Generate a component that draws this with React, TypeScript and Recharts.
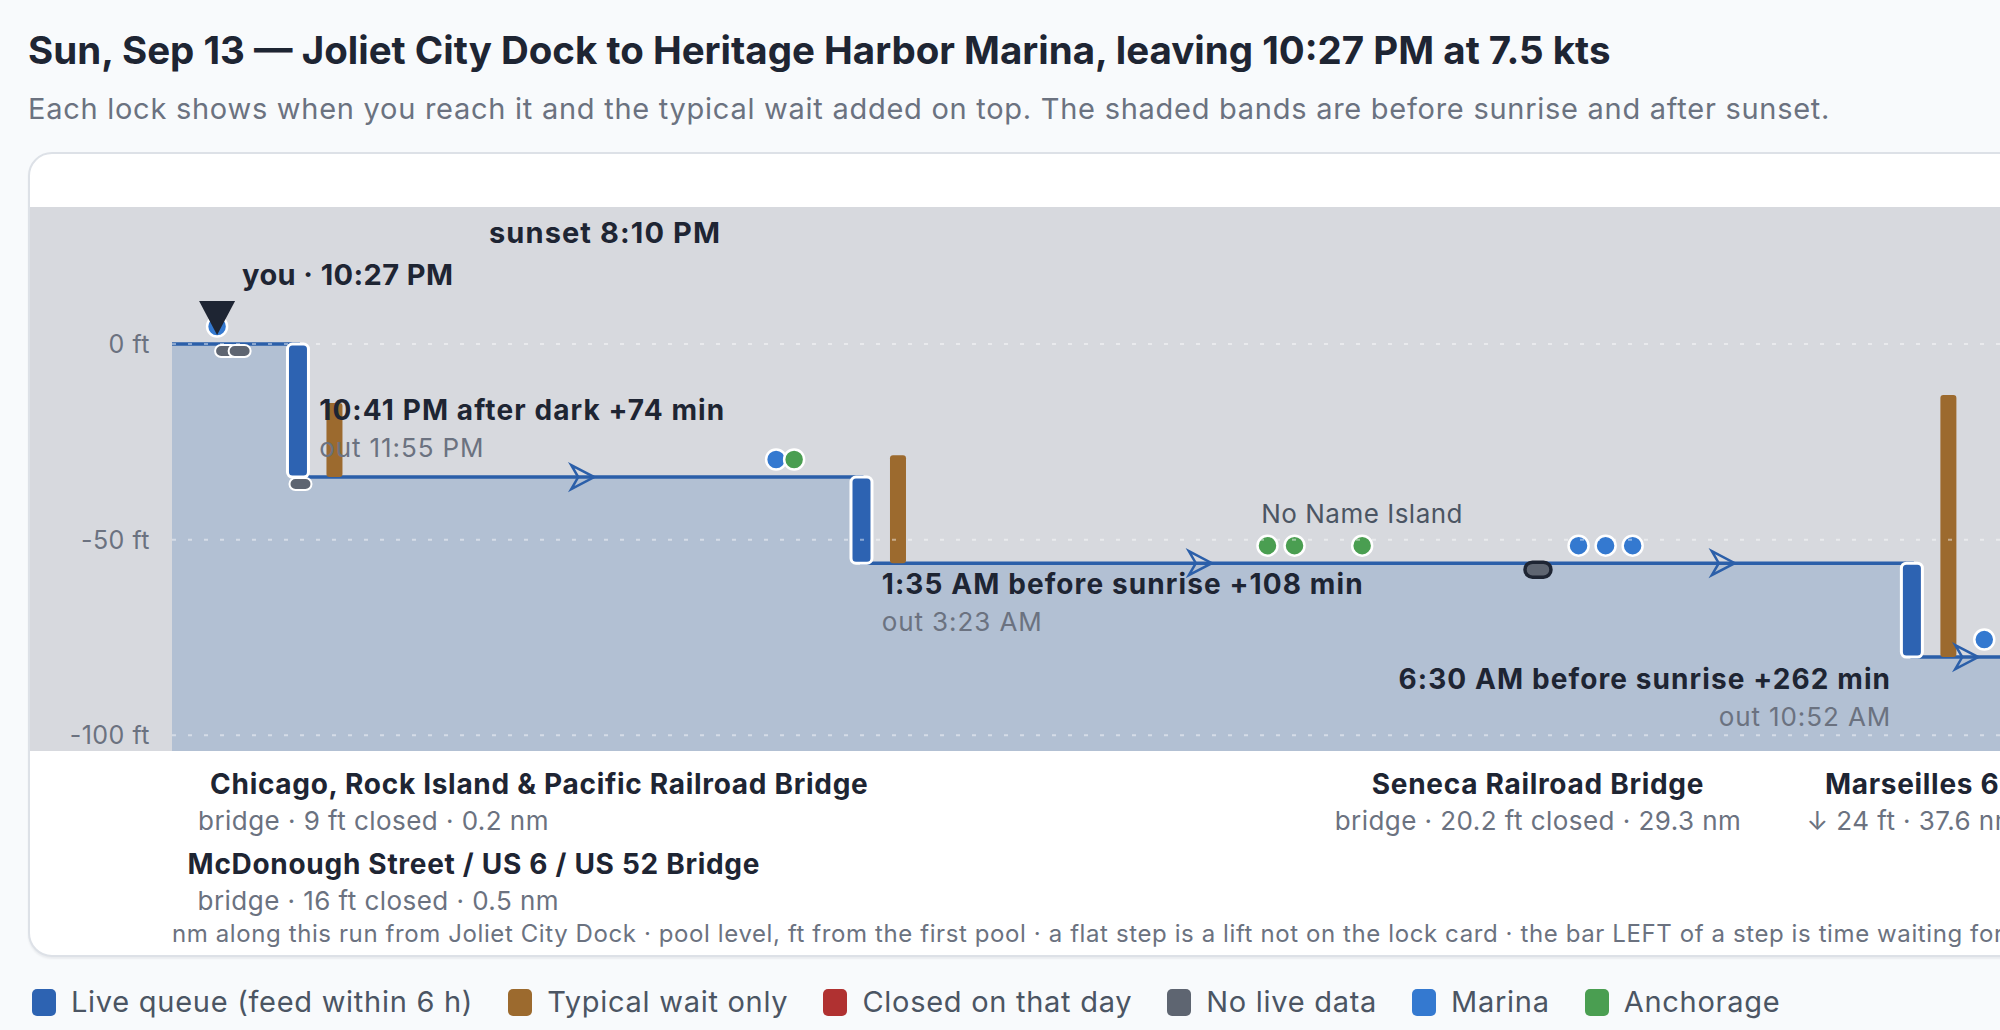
import React from 'react';
import {
  ComposedChart,
  Area,
  Bar,
  Scatter,
  XAxis,
  YAxis,
  ReferenceArea,
  ReferenceLine,
} from 'recharts';

const title = 'Sun, Sep 13 — Joliet City Dock to Heritage Harbor Marina, leaving 10:27 PM at 7.5 kts';
const subtitle =
  'Each lock shows when you reach it and the typical wait added on top. The shaded bands are before sunrise and after sunset.';
const footer =
  'nm along this run from Joliet City Dock · pool level, ft from the first pool · a flat step is a lift not on the lock card · the bar LEFT of a step is time waiting for the lock';

// pool level (ft from the first pool), stepping down at each lock
const poolNm = [-1, 1.8, 14.3, 37.6, 48];
const poolFt = [0, -34, -56, -80, -80];

// locks
const lockNm = [1.8, 14.3, 37.6];
const lockArrive = ['10:41 PM', '1:35 AM', '6:30 AM'];
const lockLight = ['after dark', 'before sunrise', 'before sunrise'];
const lockWaitMin = [74, 108, 262];
const lockOut = ['11:55 PM', '3:23 AM', '10:52 AM'];

// stops along the way
const marinaNm = [0, 12.4, 30.2, 30.8, 31.4, 39.2];
const anchorageNm = [12.8, 23.3, 23.9, 25.4];
const anchorageName = ['', '', '', 'No Name Island'];
const bridgeNm = [0.2, 0.5, 1.85, 29.3];
const bridgeFlagged = [false, false, false, true];
const arrowNm = [8.1, 21.8, 33.4, 38.8];

// labels under the chart
const bottomLabelNm = [0.2, 0.5, 29.3, 37.6];
const bottomLabelName = [
  'Chicago, Rock Island & Pacific Railroad Bridge',
  'McDonough Street / US 6 / US 52 Bridge',
  'Seneca Railroad Bridge',
  'Marseilles 6',
];
const bottomLabelSub = [
  'bridge · 9 ft closed · 0.2 nm',
  'bridge · 16 ft closed · 0.5 nm',
  'bridge · 20.2 ft closed · 29.3 nm',
  '↓ 24 ft · 37.6 nm',
];

const yTicks = [0, -50, -100];
const youNm = 0;
const youTime = '10:27 PM';
const sunsetTime = '8:10 PM';
const nightBand = [-4.15, 48];

const legendNames = ['Live queue (feed within 6 h)', 'Typical wait only', 'Closed on that day', 'No live data', 'Marina', 'Anchorage'];

// styles
const FONT = 'Inter, "Noto Sans", sans-serif';
const PAGE = '#f8fafc';
const INK = '#1e2533';
const MUTED = '#6b7280';
const NIGHT = '#d7d9de';
const POOL = '#b2c0d3';
const LINE = '#2b5fa9';
const LIVE = '#2d63b2';
const TYPICAL = '#9c6a2e';
const CLOSED = '#b03131';
const NODATA = '#5e6571';
const MARINA = '#3479d0';
const ANCHOR = '#4a9e51';
const legendColors = [LIVE, TYPICAL, CLOSED, NODATA, MARINA, ANCHOR];

const CHART_W = 2351;
const CHART_H = 801;
const X_DOMAIN: [number, number] = [-1, 48];
const Y_DOMAIN: [number, number] = [-104, 35];
const FT_PER_MIN = 0.2555;

const lockLabelPlace = [
  { anchor: 'start', dx: 21, dy: -57 },
  { anchor: 'start', dx: 20, dy: 31 },
  { anchor: 'end', dx: -21, dy: 32 },
];
const bottomLabelPlace = [
  { row: 0, anchor: 'start', nameDx: -16, subDx: -28 },
  { row: 1, anchor: 'start', nameDx: -52, subDx: -42 },
  { row: 0, anchor: 'middle', nameDx: 0, subDx: 0 },
  { row: 0, anchor: 'middle', nameDx: 0, subDx: 0 },
];

const levelAt = (nm: number) => {
  let ft = poolFt[0];
  poolNm.forEach((x, i) => {
    if (nm >= x) ft = poolFt[i];
  });
  return ft;
};

const poolRows = poolNm.map((nm, i) => ({ nm, ft: poolFt[i] }));
const lockRows = lockNm.map((nm, i) => ({
  nm,
  i,
  before: poolFt[i],
  after: poolFt[i + 1],
  wait: lockWaitMin[i],
  ft: poolFt[i + 1],
}));
const marinaRows = marinaNm.map((nm) => ({ nm, ft: levelAt(nm) }));
const anchorRows = anchorageNm.map((nm, i) => ({ nm, ft: levelAt(nm), name: anchorageName[i] }));
const bridgeRows = bridgeNm.map((nm, i) => ({ nm, ft: levelAt(nm), flagged: bridgeFlagged[i] }));
const arrowRows = arrowNm.map((nm) => ({ nm, ft: levelAt(nm) }));
const youRows = [{ nm: youNm, ft: levelAt(youNm) }];

const LockBar = (p: any) => (
  <rect x={p.x} y={p.y} width={p.width} height={p.height} rx={5} fill={LIVE} stroke="#fff" strokeWidth={3} />
);

const WaitBar = (p: any) => (
  <rect x={p.x + 36} y={p.y} width={p.width} height={p.height} rx={3} fill={TYPICAL} />
);

const ArrowShape = (p: any) => (
  <path
    d={`M${p.cx - 11},${p.cy - 12} L${p.cx + 12},${p.cy} L${p.cx - 11},${p.cy + 12} L${p.cx - 4},${p.cy} Z`}
    fill="none"
    stroke={LINE}
    strokeWidth={2.5}
  />
);

const BridgeShape = (p: any) =>
  p.payload.flagged ? (
    <rect x={p.cx - 13} y={p.cy - 1} width={26} height={15} rx={7.5} fill={NODATA} stroke={INK} strokeWidth={3.5} />
  ) : (
    <rect x={p.cx - 11} y={p.cy + 1} width={22} height={12} rx={6} fill={NODATA} stroke="#fff" strokeWidth={2} />
  );

const MarinaShape = (p: any) => (
  <circle cx={p.cx} cy={p.cy - 17.5} r={10} fill={MARINA} stroke="#fff" strokeWidth={2.5} />
);

const AnchorShape = (p: any) => (
  <g>
    <circle cx={p.cx} cy={p.cy - 17.5} r={10} fill={ANCHOR} stroke="#fff" strokeWidth={2.5} />
    {p.payload.name ? (
      <text x={p.cx} y={p.cy - 40} textAnchor="middle" fontSize={26} letterSpacing={0.5} fill="#4b5563">
        {p.payload.name}
      </text>
    ) : null}
  </g>
);

const YouShape = (p: any) => (
  <g>
    <path d={`M${p.cx - 18},${p.cy - 43} L${p.cx + 18},${p.cy - 43} L${p.cx},${p.cy - 9} Z`} fill={INK} />
    <text x={p.cx + 25} y={p.cy - 59} fontSize={29} fontWeight={700} letterSpacing={0.4} fill={INK}>
      {`you · ${youTime}`}
    </text>
  </g>
);

const LockLabel = (p: any) => {
  const i = p.payload.i;
  const place = lockLabelPlace[i];
  const x = p.cx + place.dx;
  return (
    <g>
      <text
        x={x}
        y={p.cy + place.dy}
        textAnchor={place.anchor}
        fontSize={28}
        fontWeight={700}
        letterSpacing={1.1}
        fill={INK}
      >
        {`${lockArrive[i]} ${lockLight[i]} +${lockWaitMin[i]} min`}
      </text>
      <text x={x} y={p.cy + place.dy + 37} textAnchor={place.anchor} fontSize={26} letterSpacing={0.9} fill={MUTED}>
        {`out ${lockOut[i]}`}
      </text>
    </g>
  );
};

const YTick = (p: any) => (
  <text x={p.x} y={p.y} textAnchor="end" dominantBaseline="central" fontSize={25} letterSpacing={0.5} fill={MUTED}>
    {`${p.payload.value} ft`}
  </text>
);

const BottomTick = (p: any) => {
  const i = bottomLabelNm.indexOf(p.payload.value);
  if (i < 0) return null;
  const place = bottomLabelPlace[i];
  const y = p.y + place.row * 80;
  return (
    <g>
      <text
        x={p.x + place.nameDx}
        y={y + 43}
        textAnchor={place.anchor}
        fontSize={28}
        fontWeight={700}
        letterSpacing={0.7}
        fill={INK}
      >
        {bottomLabelName[i]}
      </text>
      <text x={p.x + place.subDx} y={y + 79} textAnchor={place.anchor} fontSize={26} letterSpacing={0.45} fill={MUTED}>
        {bottomLabelSub[i]}
      </text>
    </g>
  );
};

const FooterLabel = (p: any) => {
  const vb = p.viewBox || { x: 0, y: 0 };
  return (
    <text x={vb.x} y={vb.y + 191} fontSize={24} letterSpacing={0.6} fill={MUTED}>
      {footer}
    </text>
  );
};

const SunsetLabel = (p: any) => {
  const vb = p.viewBox || { x: 0, y: 0 };
  return (
    <text x={vb.x + 459} y={vb.y + 36} fontSize={29} fontWeight={700} letterSpacing={1.1} fill={INK}>
      {`sunset ${sunsetTime}`}
    </text>
  );
};

function LockChart() {
  return (
    <ComposedChart width={CHART_W} height={CHART_H} data={lockRows} margin={{ top: 53, right: 0, bottom: 0, left: 0 }}>
      <XAxis
        dataKey="nm"
        type="number"
        domain={X_DOMAIN}
        allowDataOverflow
        ticks={bottomLabelNm}
        interval={0}
        tick={<BottomTick />}
        tickLine={false}
        axisLine={false}
        tickSize={0}
        tickMargin={0}
        height={204}
        label={<FooterLabel />}
      />
      <XAxis xAxisId="lock" dataKey="nm" type="number" domain={X_DOMAIN} allowDataOverflow hide />
      <XAxis xAxisId="wait" dataKey="nm" type="number" domain={X_DOMAIN} allowDataOverflow hide />
      <YAxis
        type="number"
        domain={Y_DOMAIN}
        allowDataOverflow
        ticks={yTicks}
        interval={0}
        tick={<YTick />}
        tickLine={false}
        axisLine={false}
        tickSize={0}
        tickMargin={22}
        width={142}
      />
      <ReferenceArea
        x1={nightBand[0]}
        x2={nightBand[1]}
        ifOverflow="visible"
        fill={NIGHT}
        fillOpacity={1}
        stroke="none"
        label={<SunsetLabel />}
        zIndex={10}
      />
      <Area
        data={poolRows}
        dataKey="ft"
        type="stepAfter"
        baseValue="dataMin"
        stroke={LINE}
        strokeWidth={3.5}
        fill={POOL}
        fillOpacity={1}
        dot={false}
        activeDot={false}
        isAnimationActive={false}
        zIndex={100}
      />
      <Bar
        xAxisId="lock"
        dataKey={(d: any) => [d.after, d.before]}
        barSize={21}
        shape={LockBar}
        isAnimationActive={false}
        zIndex={300}
      />
      <Bar
        xAxisId="wait"
        dataKey={(d: any) => [d.after, d.after + d.wait * FT_PER_MIN]}
        barSize={16}
        shape={WaitBar}
        isAnimationActive={false}
        zIndex={310}
      />
      <Scatter data={arrowRows} dataKey="ft" shape={ArrowShape} isAnimationActive={false} zIndex={400} />
      <Scatter data={bridgeRows} dataKey="ft" shape={BridgeShape} isAnimationActive={false} zIndex={600} />
      <Scatter data={marinaRows} dataKey="ft" shape={MarinaShape} isAnimationActive={false} zIndex={610} />
      <Scatter data={anchorRows} dataKey="ft" shape={AnchorShape} isAnimationActive={false} zIndex={620} />
      {yTicks.map((t) => (
        <ReferenceLine
          key={t}
          y={t}
          stroke="#ffffff"
          strokeOpacity={0.45}
          strokeWidth={2}
          strokeDasharray="4 12"
          zIndex={700}
        />
      ))}
      <Scatter data={youRows} dataKey="ft" shape={YouShape} isAnimationActive={false} zIndex={800} />
      <Scatter data={lockRows} dataKey="ft" shape={LockLabel} isAnimationActive={false} zIndex={900} />
    </ComposedChart>
  );
}

export default function App() {
  return (
    <div
      style={{
        position: 'relative',
        width: 2000,
        height: 1030,
        overflow: 'hidden',
        background: PAGE,
        fontFamily: FONT,
      }}
    >
      <style>{'body{margin:0;background:#f8fafc;}'}</style>
      <div
        style={{
          position: 'absolute',
          left: 28,
          top: 28,
          fontSize: 38.5,
          lineHeight: '44px',
          fontWeight: 700,
          color: INK,
          whiteSpace: 'nowrap',
        }}
      >
        {title}
      </div>
      <div
        style={{
          position: 'absolute',
          left: 28,
          top: 92,
          fontSize: 29,
          lineHeight: '34px',
          letterSpacing: 0.73,
          color: MUTED,
          whiteSpace: 'nowrap',
        }}
      >
        {subtitle}
      </div>
      <div
        style={{
          position: 'absolute',
          left: 28,
          top: 152,
          width: CHART_W,
          height: CHART_H,
          border: '2px solid #dde1e7',
          borderRadius: 24,
          background: '#fff',
          overflow: 'hidden',
          boxShadow: '0 2px 2px rgba(15,23,42,0.06)',
        }}
      >
        <LockChart />
      </div>
      <div style={{ position: 'absolute', left: 32, top: 985, display: 'flex', alignItems: 'center' }}>
        {legendNames.map((name, i) => (
          <div key={name} style={{ display: 'flex', alignItems: 'center', marginRight: 35 }}>
            <span
              style={{
                display: 'inline-block',
                width: 24,
                height: 27,
                borderRadius: 5,
                background: legendColors[i],
                marginRight: 15,
              }}
            />
            <span
              style={{ fontSize: 29, lineHeight: '34px', letterSpacing: 0.72, color: '#4b5563', whiteSpace: 'nowrap' }}
            >
              {name}
            </span>
          </div>
        ))}
      </div>
    </div>
  );
}
